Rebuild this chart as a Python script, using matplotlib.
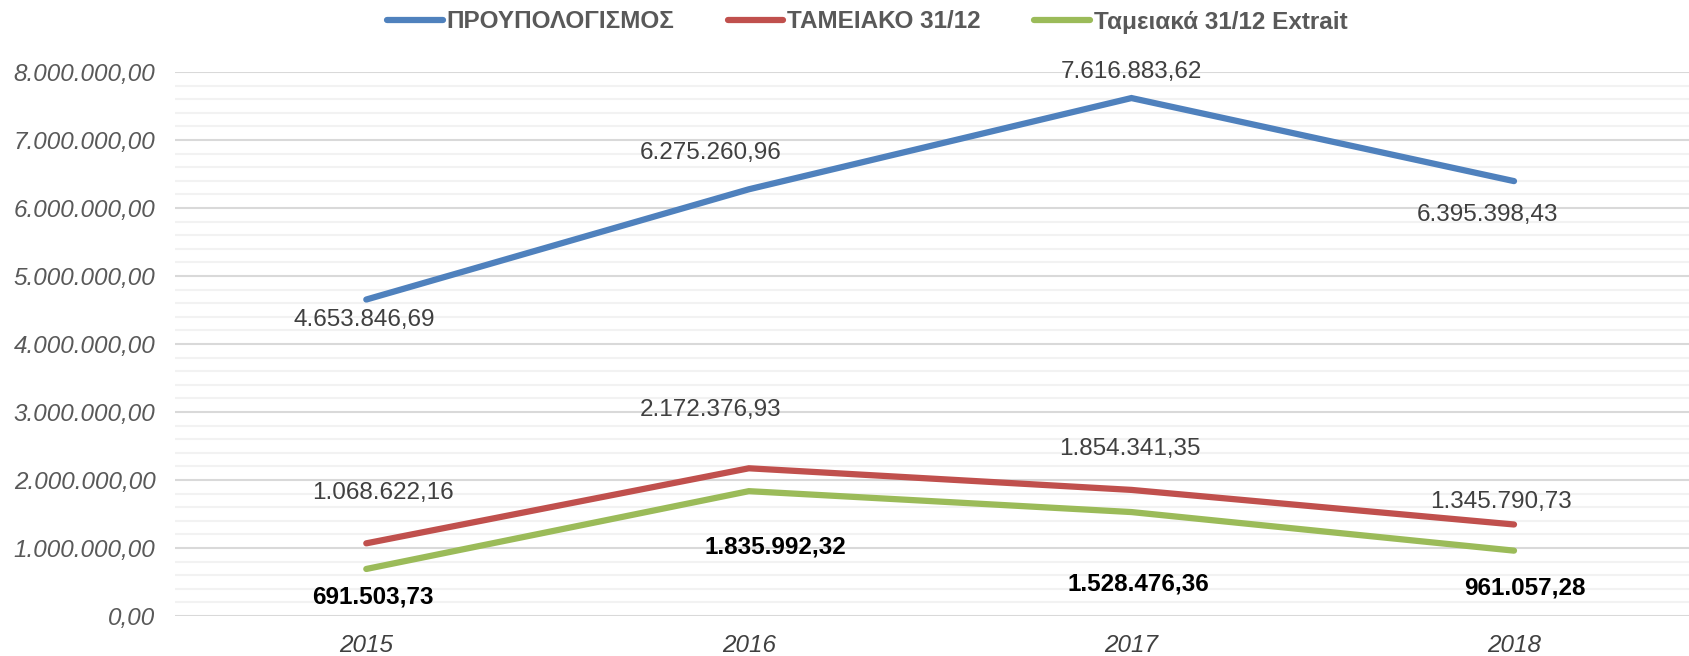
import matplotlib as mpl
mpl.use('Agg')
import matplotlib.pyplot as plt
from matplotlib.ticker import MultipleLocator, FuncFormatter

plt.rcParams['font.family'] = ['Liberation Sans', 'DejaVu Sans']

years = ['2015', '2016', '2017', '2018']
budget = [4653846.69, 6275260.96, 7616883.62, 6395398.43]
cash = [1068622.16, 2172376.93, 1854341.35, 1345790.73]
extrait = [691503.73, 1835992.32, 1528476.36, 961057.28]

names = ['ΠΡΟΥΠΟΛΟΓΙΣΜΟΣ', 'ΤΑΜΕΙΑΚΟ 31/12', 'Ταμειακά 31/12 Extrait']
colors = ['#4F81BD', '#C0504D', '#9BBB59']

# label offsets in pixels (dx, dy) relative to each point
offsets = [
    [(-2, -20), (-38, 36), (0, 26), (-27, -34)],
    [(17, 50), (-38, 58), (-2, 41), (-13, 22)],
    [(7, -28), (27, -56), (7, -72), (11, -37)],
]


def gr(v):
    s = '{:,.2f}'.format(v)
    return s.replace(',', 'X').replace('.', ',').replace('X', '.')


fig = plt.figure(figsize=(16.9, 6.56), dpi=100)
ax = fig.add_axes([175/1690, 40/656, (1690-175)/1690, (616-72)/656])

x = range(len(years))
series = [budget, cash, extrait]
for k, (vals, name, col) in enumerate(zip(series, names, colors)):
    ax.plot(x, vals, color=col, lw=4.5, solid_capstyle='round',
            solid_joinstyle='miter', label=name, zorder=3)
    bold = (k == 2)
    for i, v in enumerate(vals):
        dx, dy = offsets[k][i]
        ax.annotate(gr(v), (i, v), xytext=(dx*0.72, dy*0.72),
                    textcoords='offset points', ha='center', va='center',
                    fontsize=17.5,
                    fontweight='bold' if bold else 'normal',
                    color='black' if bold else '#404040',
                    annotation_clip=False, zorder=4)

ax.set_xlim(-0.5, 3.46)
ax.set_ylim(0, 8000000)
ax.yaxis.set_major_locator(MultipleLocator(1000000))
ax.yaxis.set_minor_locator(MultipleLocator(200000))
ax.yaxis.set_major_formatter(FuncFormatter(lambda v, p: gr(v)))
ax.grid(True, which='major', axis='y', color='#D9D9D9', lw=1.5, zorder=1)
ax.grid(True, which='minor', axis='y', color='#F2F2F2', lw=1.5, zorder=0)
ax.set_axisbelow(True)
for s in ax.spines.values():
    s.set_visible(False)
ax.tick_params(axis='both', which='both', length=0)
ax.tick_params(axis='y', pad=14, labelsize=17.5, labelcolor='#595959')
ax.tick_params(axis='x', pad=13, labelsize=17.5, labelcolor='#404040')
ax.set_xticks(list(x))
ax.set_xticklabels(years)
for t in ax.get_yticklabels() + ax.get_xticklabels():
    t.set_fontstyle('italic')

leg = fig.legend(loc='center', bbox_to_anchor=(867/1690, 1 - 22/656), ncol=3,
                 frameon=False, handlelength=2.3, handletextpad=0.15,
                 columnspacing=2.2, prop={'size': 17.5, 'weight': 'bold'})
for t in leg.get_texts():
    t.set_color('#595959')

fig.savefig('out.png', dpi=100)
